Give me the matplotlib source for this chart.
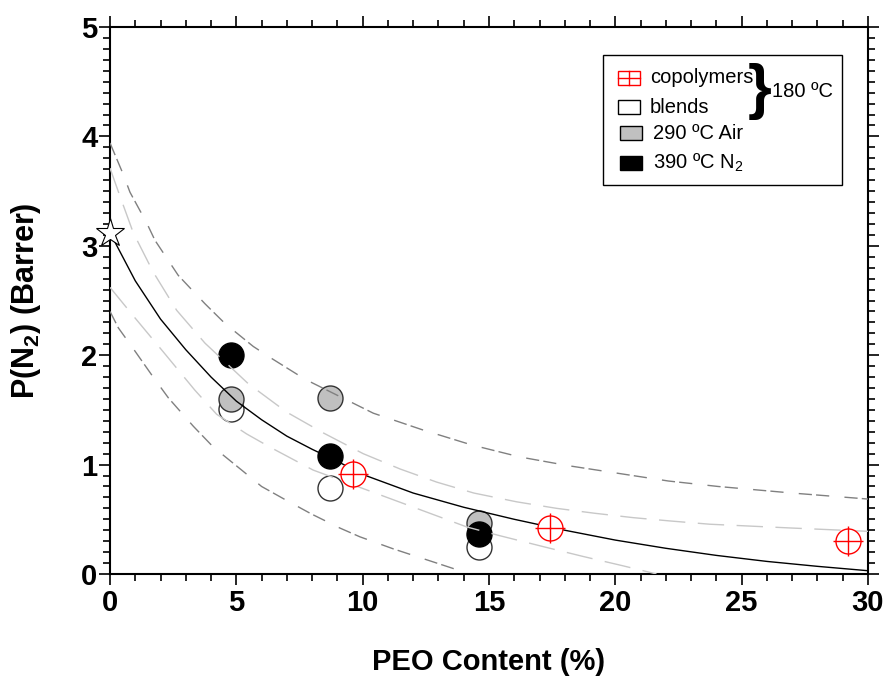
import matplotlib
matplotlib.use("Agg")
import matplotlib.pyplot as plt
from matplotlib.patches import Rectangle
from matplotlib.ticker import MultipleLocator

plt.rcParams['font.family'] = ['Liberation Sans', 'DejaVu Sans']
plt.rcParams['mathtext.fontset'] = 'custom'
plt.rcParams['mathtext.rm'] = 'Liberation Sans'
plt.rcParams['mathtext.bf'] = 'Liberation Sans:bold'

# measured points
peo_pure = [0.0]
p_pure = [3.12]
peo_copo = [9.6, 17.4, 29.2]
p_copo = [0.91, 0.42, 0.30]
peo_blend = [4.8, 8.7, 14.6]
p_blend = [1.51, 0.79, 0.25]
p_air = [1.60, 1.61, 0.47]
p_n2 = [2.00, 1.08, 0.37]

# fitted curve and bands
fit_x = [0, 1, 2, 3, 4, 5, 6, 7, 8, 9, 10, 12, 14, 16, 18, 20, 22, 24, 26, 28, 30]
fit_y = [3.12, 2.68, 2.33, 2.05, 1.80, 1.58, 1.41, 1.26, 1.14, 1.03, 0.91, 0.74, 0.61,
         0.50, 0.40, 0.31, 0.235, 0.17, 0.115, 0.07, 0.03]

up_conf_x = [0, 0.40, 0.92, 1.71, 2.64, 3.76, 5.47, 6.99, 8.44, 10.02, 11.48, 12.93, 14.4,
             16.09, 17.68, 19.19, 20.71, 22.16, 23.74, 27, 30]
up_conf_y = [3.71, 3.45, 3.12, 2.76, 2.41, 2.11, 1.74, 1.48, 1.29, 1.10, 0.96, 0.84, 0.74,
             0.66, 0.60, 0.555, 0.515, 0.485, 0.455, 0.42, 0.39]

lo_conf_x = [0, 0.92, 2.11, 3.36, 4.22, 5.41, 6.33, 8.04, 11.08, 12.66, 14.12, 15.43, 17.15,
             18.73, 20.3, 21.63]
lo_conf_y = [2.62, 2.36, 2.03, 1.68, 1.46, 1.28, 1.16, 0.95, 0.69, 0.555, 0.43, 0.35, 0.25,
             0.16, 0.075, 0.0]

up_pred_x = [0, 0.53, 0.79, 1.45, 1.78, 2.70, 3.23, 3.76, 4.55, 5.67, 6.40, 7.72, 10.42, 12.34,
             14.31, 16.22, 18.14, 20.12, 22.1, 24.07, 27, 30]
up_pred_y = [3.94, 3.65, 3.49, 3.21, 3.05, 2.73, 2.60, 2.47, 2.29, 2.08, 1.97, 1.78, 1.47, 1.32,
             1.18, 1.07, 0.99, 0.92, 0.85, 0.80, 0.74, 0.685]

lo_pred_x = [0, 0.33, 0.92, 1.71, 2.31, 3.30, 4.09, 5.21, 6.0, 6.93, 7.96, 9.1, 9.89, 11.21,
             11.87, 12.93, 13.85, 14.1]
lo_pred_y = [2.40, 2.25, 2.06, 1.80, 1.61, 1.35, 1.16, 0.95, 0.80, 0.68, 0.55, 0.42, 0.34, 0.23,
             0.18, 0.10, 0.03, 0.0]

fig = plt.figure(figsize=(8.89, 6.86), dpi=100)
ax = fig.add_axes([110 / 889, 112 / 686, 758 / 889, 547 / 686])

edge = '#333333'
# markers under the lines
ax.plot(peo_blend, p_blend, 'o', ms=18, mfc='white', mec=edge, mew=1, zorder=2)
ax.plot(peo_blend, p_air, 'o', ms=18, mfc='#c0c0c0', mec=edge, mew=1, zorder=2)
ax.plot(peo_blend, p_n2, 'o', ms=18, mfc='black', mec='black', mew=1, zorder=2)

ax.plot(up_pred_x, up_pred_y, color='#808080', lw=1.0, dashes=(9.5, 3, 9.5, 11), zorder=3)
ax.plot(lo_pred_x, lo_pred_y, color='#808080', lw=1.0, dashes=(9.5, 3, 9.5, 11), zorder=3)
ax.plot(up_conf_x, up_conf_y, color='#c8c8c8', lw=1.0, dashes=(19, 9), zorder=3)
ax.plot(lo_conf_x, lo_conf_y, color='#c8c8c8', lw=1.0, dashes=(19, 9), zorder=3)
ax.plot(fit_x, fit_y, color='black', lw=1.0, zorder=4)

ax.plot(peo_copo, p_copo, 'o', ms=18, mfc='white', mec='red', mew=1, zorder=5)
ax.plot(peo_copo, p_copo, '+', ms=22, mec='red', mew=1, zorder=6)
ax.plot(peo_pure, p_pure, '*', ms=21, mfc='white', mec='black', mew=0.8, zorder=6, clip_on=False)

ax.set_xlim(0, 30)
ax.set_ylim(0, 5)
ax.xaxis.set_major_locator(MultipleLocator(5))
ax.xaxis.set_minor_locator(MultipleLocator(1))
ax.yaxis.set_major_locator(MultipleLocator(1))
ax.yaxis.set_minor_locator(MultipleLocator(0.1))
ax.tick_params(which='both', direction='out', top=True, right=True, width=1.2, colors='black')
ax.tick_params(which='major', length=8, labelsize=21)
ax.tick_params(axis='x', which='major', pad=3)
ax.tick_params(axis='y', which='major', pad=1)
ax.tick_params(which='minor', length=5)
for lab in ax.get_xticklabels() + ax.get_yticklabels():
    lab.set_fontweight('bold')
for s in ax.spines.values():
    s.set_linewidth(1.5)

ax.set_xlabel('PEO Content (%)', fontsize=21, fontweight='bold')
ax.set_ylabel(r'P(N$_\mathbf{2}$) (Barrer)', fontsize=22, fontweight='bold')
ax.xaxis.set_label_coords(0.5, -0.135)
ax.yaxis.set_label_coords(-0.088, 0.5)

# legend drawn by hand
T = ax.transAxes
ax.add_patch(Rectangle((0.6504, 0.7112), 0.3153, 0.2376, transform=T, fc='white', ec='black',
                       lw=1.0, zorder=7, clip_on=False))
sq_w, sq_h = 0.029, 0.0256
rows = [(0.9068, 'copolymers', 'white', 'red'),
        (0.8537, 'blends', 'white', 'black'),
        (0.8062, '290 ºC Air', '#c0c0c0', 'black'),
        (0.7514, r'390 ºC N$_2$', 'black', 'black')]
for i, (yc, txt, fc, ec) in enumerate(rows):
    xc = 0.6847 if i < 2 else 0.687
    ax.add_patch(Rectangle((xc - sq_w / 2, yc - sq_h / 2), sq_w, sq_h, transform=T, fc=fc,
                           ec=ec, lw=1.0, zorder=8, clip_on=False))
    if i == 0:
        ax.plot([xc - sq_w / 2, xc + sq_w / 2], [yc, yc], color='red', lw=1.0, transform=T, zorder=9)
        ax.plot([xc, xc], [yc - sq_h / 2, yc + sq_h / 2], color='red', lw=1.0, transform=T, zorder=9)
    tx = 0.7124 if i < 2 else 0.7164
    ax.text(tx, yc, txt, transform=T, fontsize=14.5, va='center', ha='left', zorder=9)

ax.text(0.857, 0.8812, '}', transform=T, fontsize=44, fontweight='bold', va='center',
        ha='center', zorder=9)
ax.text(0.873, 0.8812, '180 ºC', transform=T, fontsize=14.5, va='center', ha='left', zorder=9)

fig.savefig('out.png', dpi=100)
